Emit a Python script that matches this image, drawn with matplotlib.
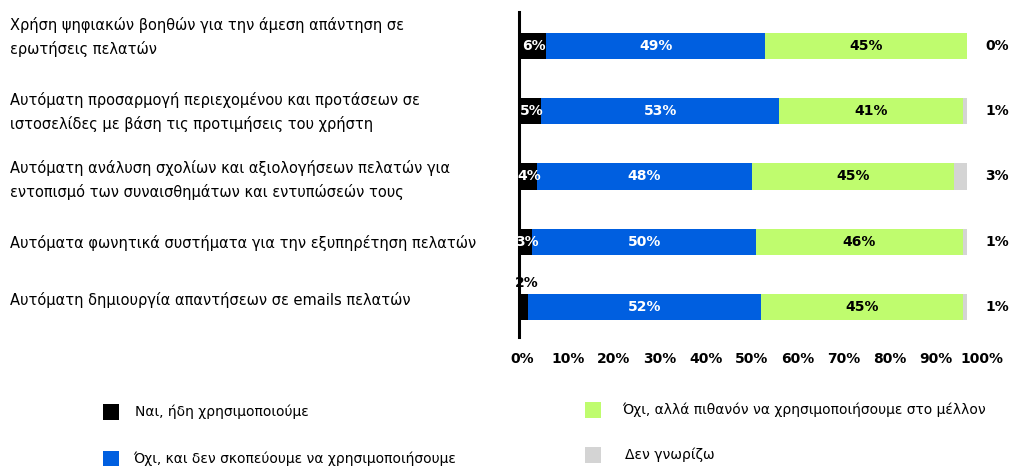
import matplotlib.pyplot as plt
import numpy as np

categories = [
    "Χρήση ψηφιακών βοηθών για την άμεση απάντηση σε\nερωτήσεις πελατών",
    "Αυτόματη προσαρμογή περιεχομένου και προτάσεων σε\nιστοσελίδες με βάση τις προτιμήσεις του χρήστη",
    "Αυτόματη ανάλυση σχολίων και αξιολογήσεων πελατών για\nεντοπισμό των συναισθημάτων και εντυπώσεών τους",
    "Αυτόματα φωνητικά συστήματα για την εξυπηρέτηση πελατών",
    "Αυτόματη δημιουργία απαντήσεων σε emails πελατών",
]
yes_already = [6, 5, 4, 3, 2]
no_never = [49, 53, 48, 50, 52]
no_maybe = [45, 41, 45, 46, 45]
dont_know = [0, 1, 3, 1, 1]

series_names = [
    "Ναι, ήδη χρησιμοποιούμε",
    "Όχι, και δεν σκοπεύουμε να χρησιμοποιήσουμε",
    "Όχι, αλλά πιθανόν να χρησιμοποιήσουμε στο μέλλον",
    "Δεν γνωρίζω",
]
tick_labels = ["0%", "10%", "20%", "30%", "40%", "50%", "60%", "70%", "80%", "90%", "100%"]

colors = ["#000000", "#005fe0", "#bffc6e", "#d4d4d4"]

W, H = 1019, 466
fig = plt.figure(figsize=(W / 100, H / 100), dpi=100)

# axes: 0% at px 519, ~4.48 px per percent
ax_left, ax_right, ax_top, ax_bot = 519, 1019, 12, 337
ax = fig.add_axes([ax_left / W, 1 - ax_bot / H, (ax_right - ax_left) / W, (ax_bot - ax_top) / H])
ax.set_xlim(0, (ax_right - ax_left) / 4.48)
ax.set_ylim(4.46, -0.52)

y = np.arange(len(categories))
bar_h = 0.4
left = np.zeros(len(categories))
all_series = [yes_already, no_never, no_maybe, dont_know]
for vals, col in zip(all_series, colors):
    ax.barh(y, vals, left=left, height=bar_h, color=col, linewidth=0)
    left = left + np.array(vals)

lab = dict(fontsize=10, fontweight="bold", va="center", ha="center")
for i in range(len(categories)):
    a, b, c, d = yes_already[i], no_never[i], no_maybe[i], dont_know[i]
    if a >= 3:
        ax.text(a / 2 + 0.3, y[i], f"{a}%", color="white", **lab)
    else:
        ax.text(a / 2 + 0.8, y[i] - 0.37, f"{a}%", color="black", **lab)
    ax.text(a + b / 2, y[i], f"{b}%", color="white", **lab)
    ax.text(a + b + c / 2, y[i], f"{c}%", color="black", **lab)
    ax.text(106.7, y[i], f"{d}%", color="black", **lab)

for s in ["top", "right", "bottom"]:
    ax.spines[s].set_visible(False)
ax.spines["left"].set_linewidth(2.2)
ax.set_yticks([])
ax.set_xticks(np.linspace(0.6, 103.3, 11))
ax.set_xticklabels(tick_labels, fontsize=10, fontweight="bold")
ax.tick_params(axis="x", length=0, pad=11)

# category labels
label_y_px = [37, 112, 180, 243, 300]
for txt, yp in zip(categories, label_y_px):
    fig.text(10 / W, 1 - yp / H, txt, fontsize=10.5, ha="left", va="center", linespacing=1.6)

# legend
leg_pos = [(103, 412, 135), (103, 459, 133), (585, 410, 622), (585, 455, 625)]
for name, col, (sx, sy, tx) in zip(series_names, colors, leg_pos):
    fig.patches.append(plt.Rectangle((sx / W, 1 - (sy + 8) / H), 16 / W, 16 / H,
                                     transform=fig.transFigure, color=col, linewidth=0))
    fig.text(tx / W, 1 - sy / H, name, fontsize=10, ha="left", va="center")

fig.savefig("out.png", dpi=100)
